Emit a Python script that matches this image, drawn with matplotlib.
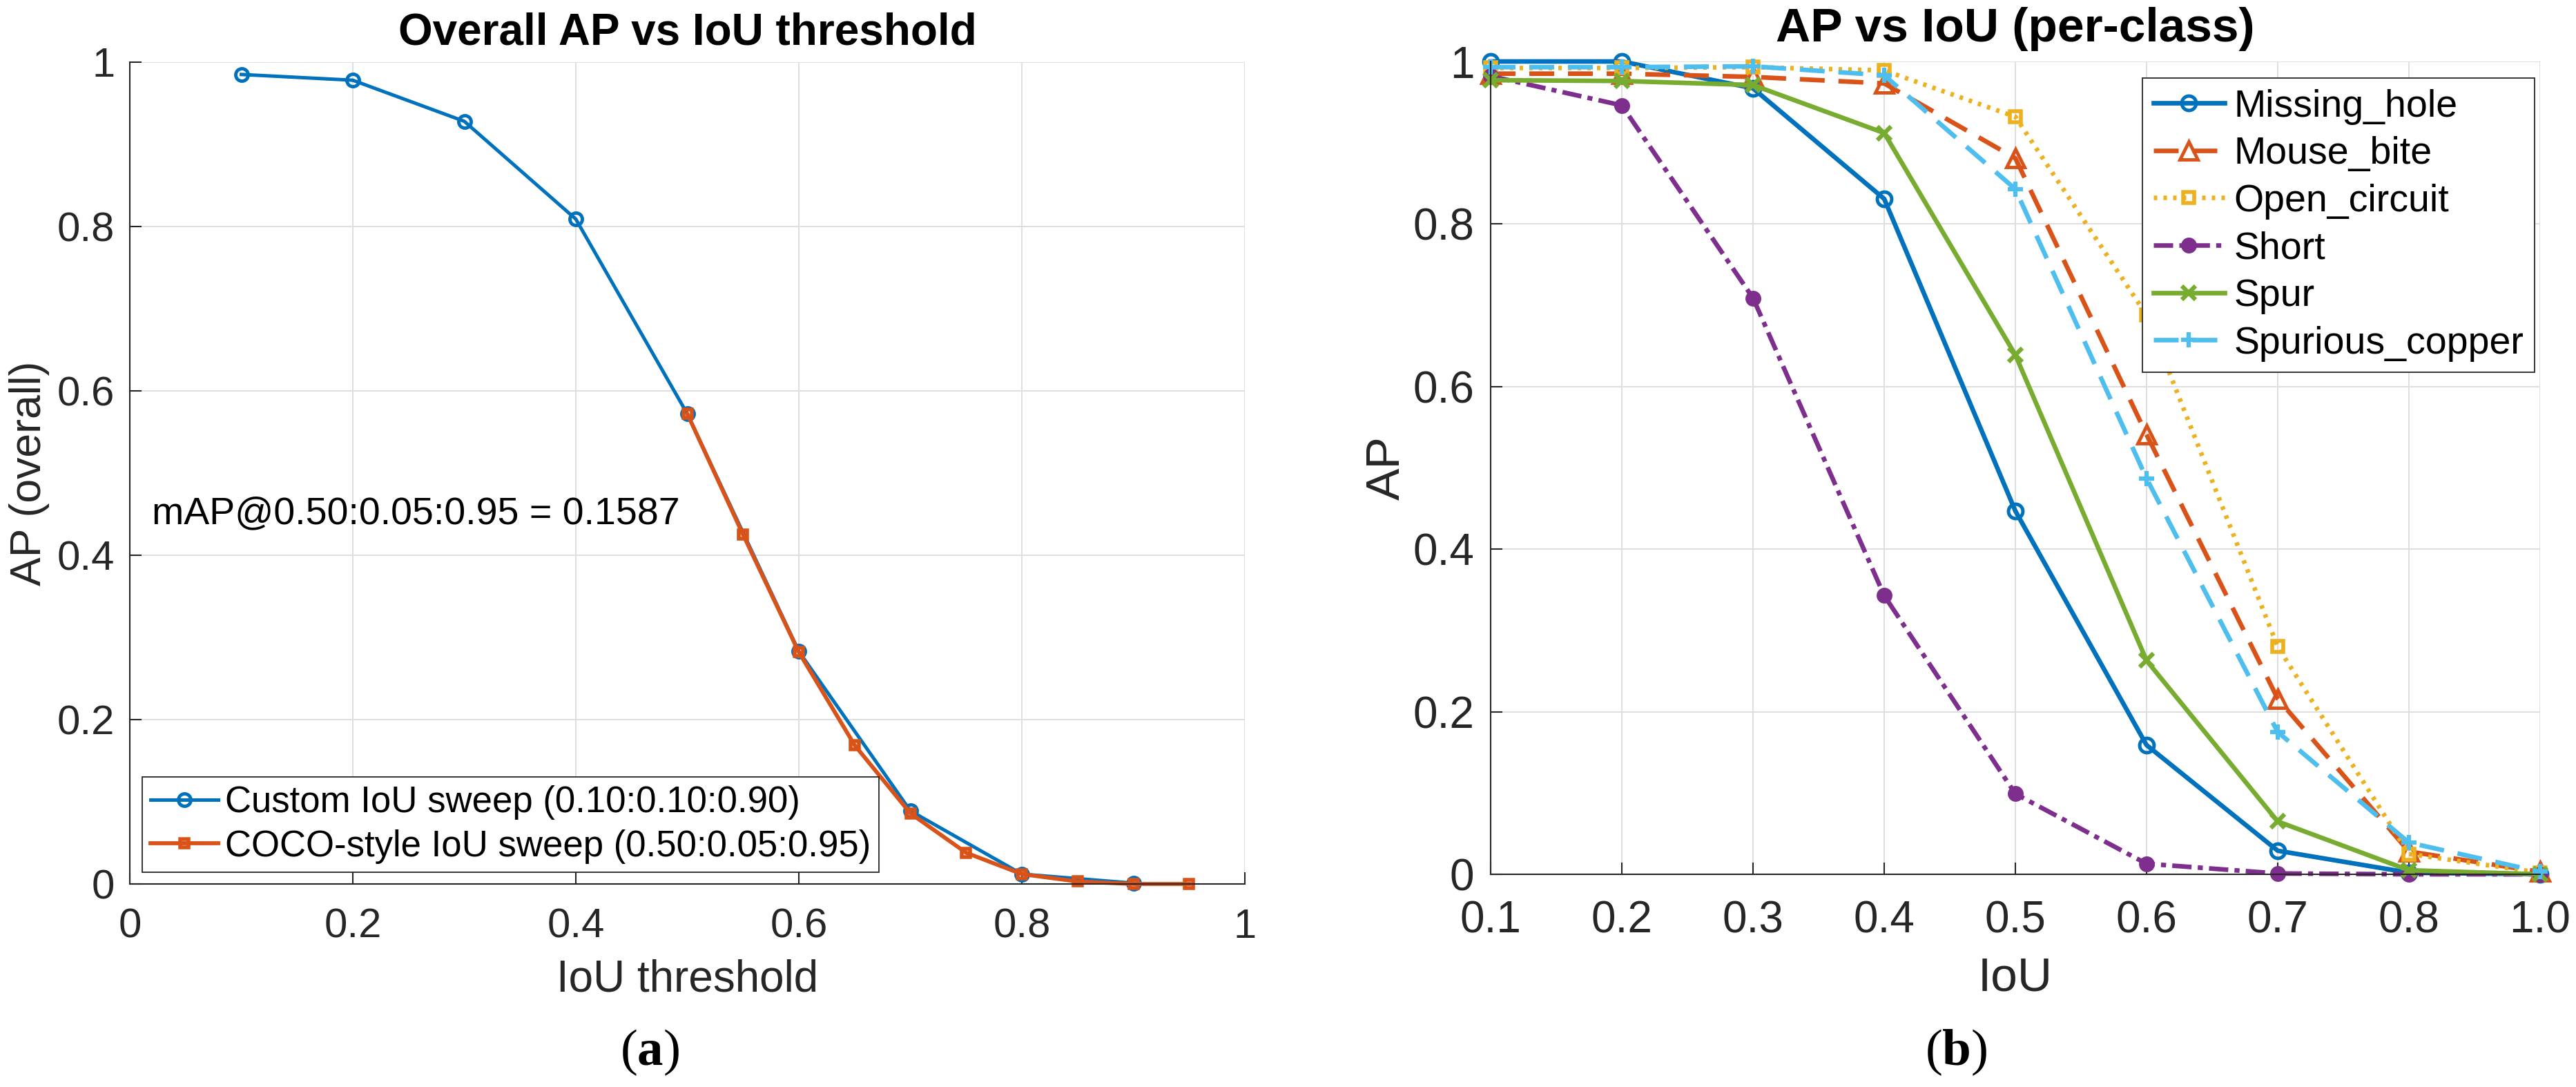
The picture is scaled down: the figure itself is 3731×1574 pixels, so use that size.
import matplotlib
matplotlib.use('Agg')
import matplotlib.pyplot as plt

plt.rcParams['font.family'] = ['Liberation Sans', 'DejaVu Sans']
plt.rcParams['mathtext.fontset'] = 'custom'
plt.rcParams['mathtext.rm'] = 'Liberation Serif'
plt.rcParams['mathtext.bf'] = 'Liberation Serif:bold'

# ---- data: (a) overall AP vs IoU threshold ----
custom_iou = [0.1, 0.2, 0.3, 0.4, 0.5, 0.6, 0.7, 0.8, 0.9]
custom_ap = [0.985, 0.978, 0.928, 0.809, 0.572, 0.283, 0.089, 0.012, 0.001]
coco_iou = [0.50, 0.55, 0.60, 0.65, 0.70, 0.75, 0.80, 0.85, 0.90, 0.95]
coco_ap = [0.572, 0.425, 0.282, 0.169, 0.086, 0.038, 0.012, 0.003, 0.0, 0.0]
map_text = 'mAP@0.50:0.05:0.95 = 0.1587'

# ---- data: (b) per-class AP ----
iou_labels = ['0.1', '0.2', '0.3', '0.4', '0.5', '0.6', '0.7', '0.8', '1.0']
missing_hole = [1.0, 1.0, 0.967, 0.831, 0.447, 0.159, 0.029, 0.002, 0.0]
mouse_bite = [0.985, 0.985, 0.981, 0.973, 0.881, 0.541, 0.216, 0.028, 0.003]
open_circuit = [0.992, 0.992, 0.993, 0.989, 0.932, 0.688, 0.280, 0.025, 0.002]
short = [0.982, 0.946, 0.709, 0.343, 0.099, 0.013, 0.001, 0.0, 0.0]
spur = [0.977, 0.976, 0.971, 0.912, 0.639, 0.263, 0.065, 0.005, 0.0]
spurious_copper = [0.993, 0.993, 0.994, 0.983, 0.843, 0.487, 0.175, 0.039, 0.003]

BLUE = '#0072BD'
ORANGE = '#D95319'
YELLOW = '#EDB120'
PURPLE = '#7E2F8E'
GREEN = '#77AC30'
LBLUE = '#4DBEEE'
AXC = '#262626'
GRIDC = '#dfdfdf'

fig = plt.figure(figsize=(37.31, 15.74), dpi=100)
ax1 = fig.add_axes([0.05039, 0.18679, 0.43286, 0.75604])
ax2 = fig.add_axes([0.57866, 0.19568, 0.40740, 0.74777])


def style_axes(ax, tick_size, xpad, ypad):
    for s in ['top', 'right']:
        ax.spines[s].set_visible(False)
    for s in ['left', 'bottom']:
        ax.spines[s].set_color(AXC)
        ax.spines[s].set_linewidth(1.5)
    ax.grid(True, color=GRIDC, linewidth=1.4)
    ax.set_axisbelow(True)
    ax.tick_params(direction='in', length=12, width=1.5, color=AXC,
                   labelcolor=AXC, labelsize=tick_size)
    ax.tick_params(axis='x', pad=xpad)
    ax.tick_params(axis='y', pad=ypad)


# ---------------- (a) ----------------
style_axes(ax1, 43, 25, 15.5)
ax1.plot(custom_iou, custom_ap, '-o', color=BLUE, lw=3.6, ms=13, mew=3.5,
         mfc='none', clip_on=False, label='Custom IoU sweep (0.10:0.10:0.90)')
ax1.plot(coco_iou, coco_ap, '-s', color=ORANGE, lw=4.2, ms=9, mew=4,
         mfc='none', clip_on=False, label='COCO-style IoU sweep (0.50:0.05:0.95)')
ax1.set_xlim(0, 1)
ax1.set_ylim(0, 1)
ticks = [0, 0.2, 0.4, 0.6, 0.8, 1]
tick_txt = ['0', '0.2', '0.4', '0.6', '0.8', '1']
ax1.set_xticks(ticks)
ax1.set_xticklabels(tick_txt)
ax1.set_yticks(ticks)
ax1.set_yticklabels(tick_txt)
ax1.text(0.02, 0.45, map_text, fontsize=40, color='black', va='center', ha='left')
ax1.set_title('Overall AP vs IoU threshold', fontsize=46, fontweight='bold',
              color='black', pad=18)
ax1.set_xlabel('IoU threshold', fontsize=46, color=AXC, labelpad=13.5)
ax1.set_ylabel('AP (overall)', fontsize=45, color=AXC)
ax1.yaxis.set_label_coords(-0.072, 0.5)
leg1 = ax1.legend(loc='lower left', bbox_to_anchor=(0.011, 0.0143), borderaxespad=0,
                  fontsize=38, frameon=True, fancybox=False, framealpha=1,
                  edgecolor=AXC, borderpad=0.23, labelspacing=0.26,
                  handlelength=1.85, handletextpad=0.2, numpoints=1)
leg1.get_frame().set_linewidth(1.3)

# ---------------- (b) ----------------
style_axes(ax2, 46, 27, 17)
pos = list(range(len(iou_labels)))
lw = 4.8
ax2.plot(pos, missing_hole, '-o', color=BLUE, lw=lw, ms=15, mew=3.6, mfc='none',
         clip_on=False, label='Missing_hole')
ax2.plot(pos, mouse_bite, '^', ls=(0, (5.4, 3.0)), color=ORANGE, lw=lw, ms=19, mew=3.5,
         mfc='none', clip_on=False, label='Mouse_bite')
ax2.plot(pos, open_circuit, 's', ls=(0, (0.75, 1.35)), color=YELLOW, lw=lw, ms=11,
         mew=4, mfc='none', clip_on=False, label='Open_circuit')
ax2.plot(pos, short, 'o', ls=(0, (4.2, 1.35, 1.1, 1.35)), color=PURPLE, lw=lw, ms=15,
         mew=1.5, mfc=PURPLE, clip_on=False, label='Short')
ax2.plot(pos, spur, '-x', color=GREEN, lw=lw, ms=15, mew=4.5, clip_on=False,
         label='Spur')
ax2.plot(pos, spurious_copper, '+', ls=(0, (5.4, 3.0)), color=LBLUE, lw=lw, ms=16,
         mew=4.5, clip_on=False, label='Spurious_copper')
ax2.set_xlim(0, len(iou_labels) - 1)
ax2.set_ylim(0, 1)
ax2.set_xticks(pos)
ax2.set_xticklabels(iou_labels)
ax2.set_yticks(ticks)
ax2.set_yticklabels(tick_txt)
ax2.set_title('AP vs IoU (per-class)', fontsize=50, fontweight='bold',
              color='black', pad=21)
ax2.set_xlabel('IoU', fontsize=50, color=AXC, labelpad=15)
ax2.set_ylabel('AP', fontsize=50, color=AXC)
ax2.yaxis.set_label_coords(-0.0776, 0.5)
leg2 = ax2.legend(loc='upper right', bbox_to_anchor=(0.9947, 0.9796), borderaxespad=0,
                  fontsize=40, frameon=True, fancybox=False, framealpha=1,
                  edgecolor=AXC, borderpad=0.28, labelspacing=0.3,
                  handlelength=1.85, handletextpad=0.25, numpoints=1)
leg2.get_frame().set_linewidth(1.3)

# sub-captions
fig.text(0.2522, 0.0203, r'($\mathbf{a}$)', family='Liberation Serif', fontsize=54,
         ha='center', va='baseline', color='black')
fig.text(0.7593, 0.0203, r'($\mathbf{b}$)', family='Liberation Serif', fontsize=54,
         ha='center', va='baseline', color='black')

fig.savefig('out.png', dpi=100)
